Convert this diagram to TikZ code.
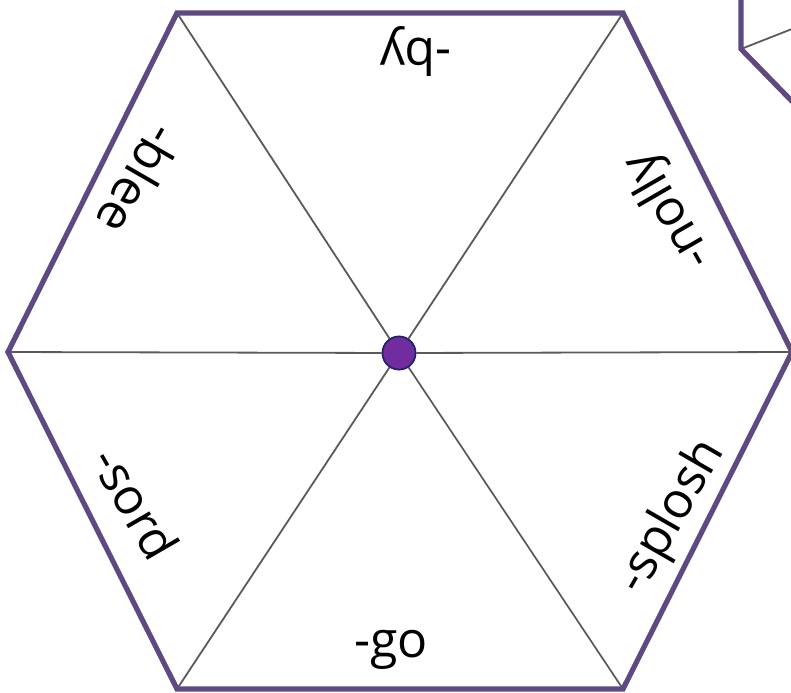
\documentclass[tikz,border=0pt]{standalone}
\usepackage{fontspec}
\setmainfont{Open Sans}
\definecolor{hexpurple}{RGB}{94,73,128}
\definecolor{spokegray}{RGB}{90,90,90}
\definecolor{hubfill}{RGB}{112,44,160}
\definecolor{hubline}{RGB}{30,36,100}
\usetikzlibrary{positioning}

\begin{document}
\begin{tikzpicture}[x=0.5pt, y=-0.5pt,
    rim/.style={draw=hexpurple, line width=2.6pt, line join=miter},
    spoke/.style={draw=spokegray, line width=0.9pt},
    hub/.style={circle, draw=hubline, fill=hubfill, line width=0.8pt,
                minimum size=16.5pt, inner sep=0pt},
    suffix/.style={font=\fontsize{25}{30}\selectfont, inner sep=0pt}
  ]
    \useasboundingbox (0,0) rectangle (791,692);

    % Corners of the big hexagon
    \coordinate (top-l) at (177,13);
    \coordinate (top-r) at (623,13);
    \coordinate (right) at (792,352);
    \coordinate (bot-r) at (623,689);
    \coordinate (bot-l) at (177,689);
    \coordinate (left)  at (8,352);

    % Spokes
    \node[hub] (hub) at (399,353) {};
    \foreach \c in {top-l,top-r,right,bot-r,bot-l,left}
      \draw[spoke] (\c) -- (hub);
    \node[hub] at (hub) {};

    % Outer hexagon
    \draw[rim] (top-l) -- (top-r) -- (right) -- (bot-r) -- (bot-l) -- (left) -- cycle;

    % Next hexagon, top right corner
    \coordinate (nb) at (741,49);
    \coordinate (nb-up) at (741,-20);
    \coordinate (nb-dn) at (820,130);
    \coordinate (nb-in) at (830,14);
    \draw[spoke] (nb) -- (nb-in);
    \draw[rim] (nb-up) -- (nb) -- (nb-dn);

    % Word endings
    \node[suffix, rotate=180]  (by)     at (416,51)  {-by};
    \node[suffix, rotate=120]  (nolly)  at (670,210) {-nolly};
    \node[suffix, rotate=60]   (splosh) at (672,517) {-splosh};
    \node[suffix]              (go)     at (391,650) {-go};
    \node[suffix, rotate=-60]  (sord)   at (136,503) {-sord};
    \node[suffix, rotate=-120] (blee)   at (140,180) {-blee};
  \end{tikzpicture}
\end{document}
